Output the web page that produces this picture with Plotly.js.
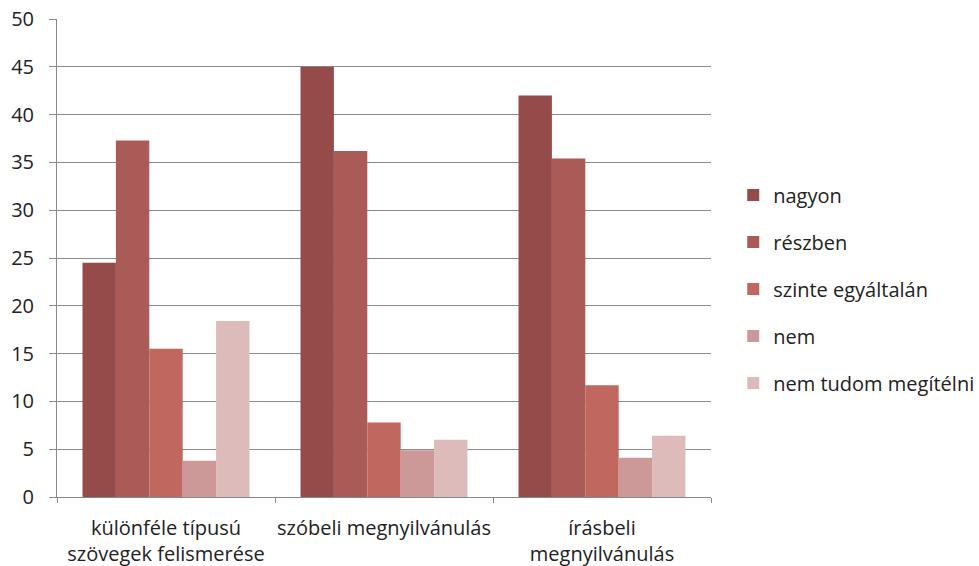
<!DOCTYPE html>
<html>
<head>
<meta charset="utf-8">
<script src="https://cdn.plot.ly/plotly-3.0.1.min.js"></script>
<style>html,body{margin:0;padding:0;background:#fff;}#chart{width:979px;height:566px;}</style>
</head>
<body>
<div id="chart"></div>
<script>
const categories = ["különféle típusú<br>szövegek felismerése", "szóbeli megnyilvánulás", "írásbeli<br>megnyilvánulás"];
const seriesNames = ["nagyon", "részben", "szinte egyáltalán", "nem", "nem tudom megítélni"];
const nagyon = [24.5, 45.0, 42.0];
const reszben = [37.3, 36.2, 35.4];
const szinte = [15.5, 7.8, 11.7];
const nem = [3.8, 4.9, 4.1];
const nemTudom = [18.4, 6.0, 6.4];
const colors = ["#954B4A", "#AA5B57", "#C0675F", "#CC9998", "#DDBBBA"];
const yTicks = [0, 5, 10, 15, 20, 25, 30, 35, 40, 45, 50];

const values = [nagyon, reszben, szinte, nem, nemTudom];
const traces = values.map((v, i) => ({
  type: 'bar',
  name: seriesNames[i],
  x: categories,
  y: v,
  marker: {color: colors[i], line: {width: 0}},
  legendgroup: 'g' + i,
  hoverinfo: 'y+name'
}));

const layout = {
  width: 979, height: 566,
  margin: {l: 57, r: 268, t: 19, b: 69, autoexpand: false},
  paper_bgcolor: '#fff', plot_bgcolor: '#fff',
  font: {family: 'Open Sans, sans-serif', size: 20, color: '#222'},
  barmode: 'group',
  bargap: 0.234,
  bargroupgap: 0,
  showlegend: true,
  legend: {x: 1.034, y: 0.435, xanchor: 'left', yanchor: 'middle', font: {size: 20, color: '#222'}, tracegroupgap: 18, itemwidth: 30, bgcolor: 'rgba(0,0,0,0)'},
  xaxis: {
    type: 'category',
    showline: true, linecolor: '#888', linewidth: 1,
    ticks: 'outside', ticklen: 5, tickcolor: '#888', tickson: 'boundaries',
    ticklabelstandoff: 13, tickangle: 0, automargin: false,
    showgrid: false, tickfont: {size: 20, color: '#222'}
  },
  yaxis: {
    range: [0, 50], tickvals: yTicks, ticktext: yTicks.map(String),
    showline: true, linecolor: '#888', linewidth: 1,
    ticks: 'outside', ticklen: 7, tickcolor: '#888',
    ticklabelstandoff: 11, automargin: false,
    showgrid: true, gridcolor: '#8c8c8c', gridwidth: 1,
    zeroline: false, tickfont: {size: 20, color: '#222'}
  }
};

Plotly.newPlot('chart', traces, layout, {displayModeBar: false, staticPlot: true});
</script>
</body>
</html>
